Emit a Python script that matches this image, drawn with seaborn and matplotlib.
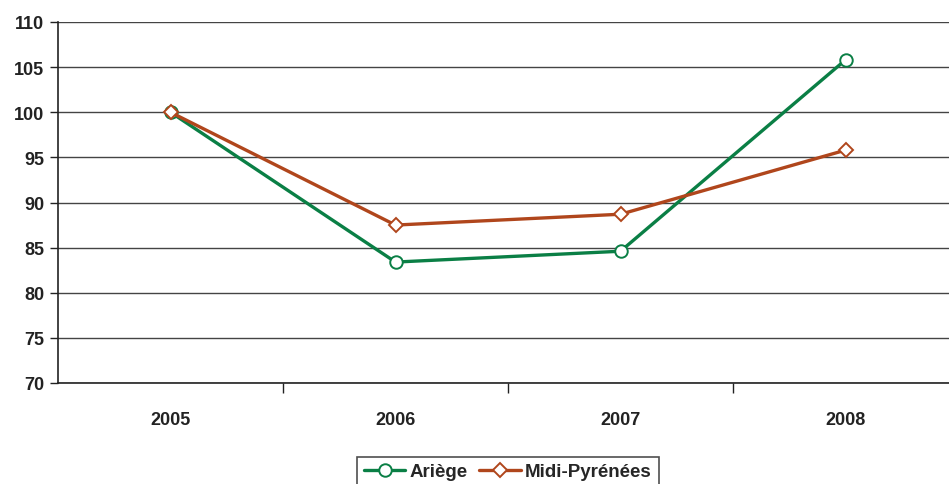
import pandas as pd
import seaborn as sns
import matplotlib.pyplot as plt

years = ['2005', '2006', '2007', '2008']
ariege = [100.0, 83.4, 84.6, 105.8]
midi_pyrenees = [100.0, 87.5, 88.7, 95.8]
series_names = ['Ariège', 'Midi-Pyrénées']

df = pd.DataFrame({
    'year': years * 2,
    'index': ariege + midi_pyrenees,
    'zone': [series_names[0]] * 4 + [series_names[1]] * 4,
})

sns.set_theme(style='white')
plt.rcParams['font.family'] = ['Liberation Sans', 'DejaVu Sans']

fig = plt.figure(figsize=(9.49, 4.85), dpi=100)
ax = fig.add_axes([58 / 949, 1 - 384 / 485, 1 - 58 / 949, (384 - 23) / 485])

palette = {'Ariège': '#0a7f45', 'Midi-Pyrénées': '#b0461c'}
markers = {'Ariège': 'o', 'Midi-Pyrénées': 'D'}
sns.lineplot(data=df, x='year', y='index', hue='zone', style='zone',
             palette=palette, markers=markers, dashes=False, linewidth=2.4,
             markersize=9, markerfacecolor='white', markeredgewidth=1.4,
             ax=ax, legend=True)
# diamond a bit smaller than circle
for line in ax.lines:
    if line.get_marker() == 'D':
        line.set_markersize(7.5)
    line.set_markeredgecolor(line.get_color())

ax.set_ylim(70, 110)
ax.set_yticks(range(70, 111, 5))
ax.set_xlim(-0.5, 3.46)
ax.set_xticks([0.5, 1.5, 2.5], minor=True)
ax.set_xticks([0, 1, 2, 3])
ax.set_xticklabels(years)
ax.tick_params(axis='x', which='major', length=0, pad=20)
ax.tick_params(axis='x', which='minor', length=7, width=1, color='#222222', direction='out', bottom=True)
ax.tick_params(axis='y', length=6, width=1, color='#222222', direction='out', left=True, pad=4)
for lab in ax.get_xticklabels() + ax.get_yticklabels():
    lab.set_fontweight('bold')
    lab.set_fontsize(13)
    lab.set_color('#222222')

ax.yaxis.grid(True, color='#444444', linewidth=1)
ax.set_axisbelow(True)
for side in ['top', 'right']:
    ax.spines[side].set_visible(False)
for side in ['left', 'bottom']:
    ax.spines[side].set_color('#222222')
    ax.spines[side].set_linewidth(1.2)
ax.set_xlabel('')
ax.set_ylabel('')

handles, labels = ax.get_legend_handles_labels()
leg = ax.legend(handles, labels, loc='upper center', bbox_to_anchor=(0.505, -0.178),
                ncol=2, frameon=True, fancybox=False, edgecolor='#222222',
                prop={'weight': 'bold', 'size': 13.5}, handlelength=2.2,
                columnspacing=0.6, handletextpad=0.25, borderpad=0.35)
leg.get_frame().set_linewidth(1.2)

fig.savefig('out.png', dpi=100)
